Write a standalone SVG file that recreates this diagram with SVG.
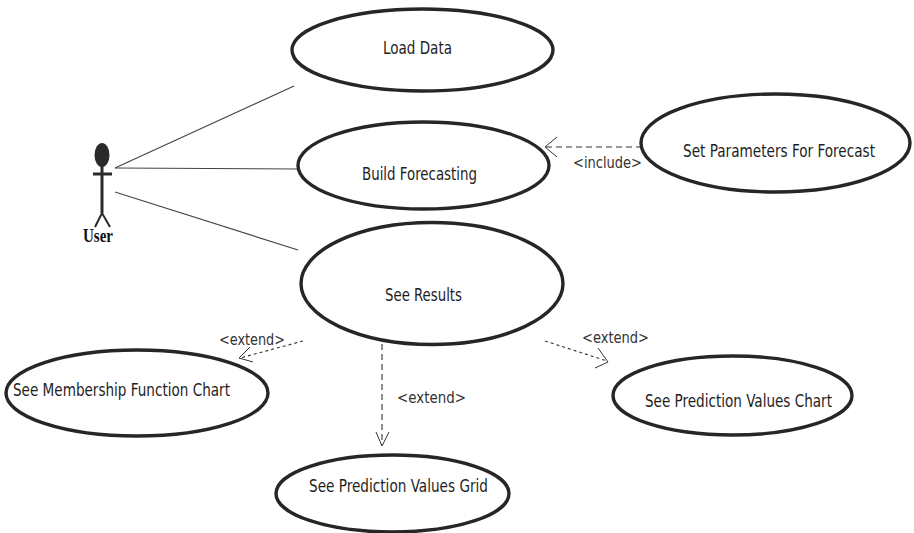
<svg xmlns="http://www.w3.org/2000/svg" width="914" height="533" viewBox="0 0 914 533">
<style>
.uc{fill:#fff;stroke:#262626;stroke-width:3.4}
.lbl{font-family:"DejaVu Sans Condensed","DejaVu Sans",sans-serif;font-size:18px;fill:#1e1e1e}
.st{font-family:"DejaVu Sans Condensed","DejaVu Sans",sans-serif;font-size:15px;fill:#333}
.assoc{stroke:#444;stroke-width:1.1;fill:none}
.dep{stroke:#333;stroke-width:1.1;fill:none}
.head{stroke:#333;stroke-width:1;fill:none}
</style>
<rect width="914" height="533" fill="#fff"/>
<g id="connectors">
  <line class="assoc" x1="115" y1="168" x2="294" y2="86"/>
  <line class="assoc" x1="115" y1="168" x2="298" y2="169"/>
  <line class="assoc" x1="115" y1="192" x2="298" y2="250"/>
  <g id="include">
    <line class="dep" x1="642" y1="147" x2="546" y2="147" stroke-dasharray="6,4"/>
    <polyline class="head" points="557,137 545,147 557,157"/>
    <text class="st" x="573" y="168" textLength="69" lengthAdjust="spacingAndGlyphs">&lt;include&gt;</text>
  </g>
  <g id="extend-left">
    <line class="dep" x1="303" y1="341" x2="240" y2="358" stroke-dasharray="3,3"/>
    <polyline class="head" points="250,347 239,358 253,362"/>
    <text class="st" x="219" y="345" textLength="66" lengthAdjust="spacingAndGlyphs">&lt;extend&gt;</text>
  </g>
  <g id="extend-mid">
    <line class="dep" x1="382" y1="344" x2="382" y2="445" stroke-dasharray="6,4"/>
    <polyline class="head" points="376,432 382,446 389,432"/>
    <text class="st" x="397" y="403" textLength="69" lengthAdjust="spacingAndGlyphs">&lt;extend&gt;</text>
  </g>
  <g id="extend-right">
    <line class="dep" x1="545" y1="341" x2="607" y2="361" stroke-dasharray="3,3"/>
    <polyline class="head" points="598,348 608,362 595,368"/>
    <text class="st" x="582" y="343" textLength="67" lengthAdjust="spacingAndGlyphs">&lt;extend&gt;</text>
  </g>
</g>
<g id="actor-user">
  <ellipse cx="102" cy="155" rx="7.5" ry="12" fill="#2a2a2a"/>
  <line x1="102" y1="166" x2="102" y2="213" stroke="#2a2a2a" stroke-width="3"/>
  <line x1="93" y1="174" x2="112" y2="174" stroke="#2a2a2a" stroke-width="3"/>
  <polyline points="95,227 102,213 110,227" fill="none" stroke="#2a2a2a" stroke-width="2"/>
  <text x="83" y="242" font-family="Liberation Serif,serif" font-weight="bold" font-size="19" fill="#111" textLength="30" lengthAdjust="spacingAndGlyphs">User</text>
</g>
<g id="uc-load-data">
  <ellipse class="uc" cx="422.5" cy="50" rx="130.5" ry="41"/>
  <text class="lbl" x="383" y="54" textLength="69" lengthAdjust="spacingAndGlyphs">Load Data</text>
</g>
<g id="uc-build-forecasting">
  <ellipse class="uc" cx="423.5" cy="165.5" rx="125.5" ry="43.5"/>
  <text class="lbl" x="362" y="180" textLength="115" lengthAdjust="spacingAndGlyphs">Build Forecasting</text>
</g>
<g id="uc-set-parameters">
  <ellipse class="uc" cx="775.5" cy="143" rx="134.5" ry="49"/>
  <text class="lbl" x="683" y="157" textLength="192" lengthAdjust="spacingAndGlyphs">Set Parameters For Forecast</text>
</g>
<g id="uc-see-results">
  <ellipse class="uc" cx="432" cy="283.5" rx="131" ry="61"/>
  <text class="lbl" x="385" y="301" textLength="77" lengthAdjust="spacingAndGlyphs">See Results</text>
</g>
<g id="uc-membership-chart">
  <ellipse class="uc" cx="137" cy="393" rx="131" ry="43"/>
  <text class="lbl" x="13" y="396" textLength="217" lengthAdjust="spacingAndGlyphs">See Membership Function Chart</text>
</g>
<g id="uc-prediction-chart">
  <ellipse class="uc" cx="732.5" cy="395.5" rx="119.5" ry="39.5"/>
  <text class="lbl" x="645" y="407" textLength="187" lengthAdjust="spacingAndGlyphs">See Prediction Values Chart</text>
</g>
<g id="uc-prediction-grid">
  <ellipse class="uc" cx="392.5" cy="493.5" rx="116.5" ry="38.5"/>
  <text class="lbl" x="309" y="492" textLength="179" lengthAdjust="spacingAndGlyphs">See Prediction Values Grid</text>
</g>
</svg>
